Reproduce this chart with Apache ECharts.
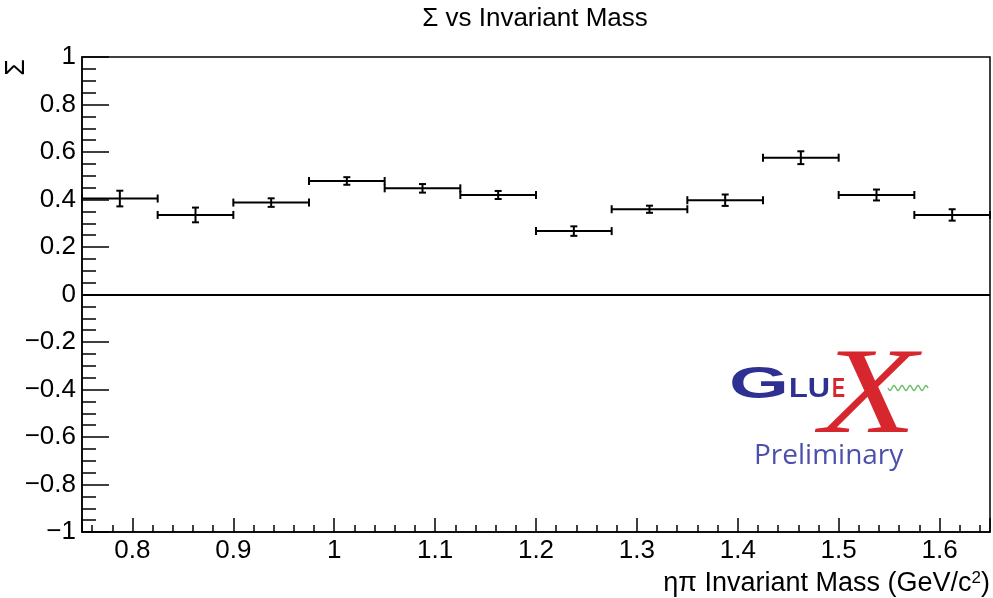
<!DOCTYPE html>
<html>
<head>
<meta charset="utf-8">
<title>Σ vs Invariant Mass</title>
<script src="https://cdn.jsdelivr.net/npm/echarts@6/dist/echarts.min.js"></script>
<style>
    html, body { margin: 0; padding: 0; background: #fff; }
    #chart { width: 993px; height: 598px; }
</style>
</head>
<body>
<div id="chart"></div>
<script>
    // eta-pi invariant mass bins (GeV/c^2) and measured beam asymmetry Sigma
    const massBinCenters = [0.7875, 0.8625, 0.9375, 1.0125, 1.0875, 1.1625, 1.2375, 1.3125, 1.3875, 1.4625, 1.5375, 1.6125];
    const binHalfWidth = 0.0375;
    const sigmaValues = [0.404, 0.335, 0.387, 0.478, 0.447, 0.419, 0.267, 0.359, 0.397, 0.576, 0.419, 0.335];
    const sigmaErrors = [0.033, 0.031, 0.018, 0.016, 0.018, 0.017, 0.020, 0.015, 0.024, 0.027, 0.023, 0.024];

    const font = "'Liberation Sans', Arial, sans-serif";

    const chart = echarts.init(document.getElementById("chart"));

    function renderErrorBar(params, api) {
        let x = api.value(0);
        let y = api.value(1);
        let hw = api.value(2);
        let err = api.value(3);
        let left = api.coord([x - hw, y]);
        let right = api.coord([x + hw, y]);
        let top = api.coord([x, y + err]);
        let bottom = api.coord([x, y - err]);
        let style = { stroke: "#000", lineWidth: 2 };
        let endCap = 4; // little marks at bin edges
        let errCap = 3.5; // caps on the error bar
        return {
            type: "group",
            children: [
                { type: "line", shape: { x1: left[0], y1: left[1], x2: right[0], y2: right[1] }, style: style },
                { type: "line", shape: { x1: left[0], y1: left[1] - endCap, x2: left[0], y2: left[1] + endCap }, style: style },
                { type: "line", shape: { x1: right[0], y1: right[1] - endCap, x2: right[0], y2: right[1] + endCap }, style: style },
                { type: "line", shape: { x1: top[0], y1: top[1], x2: bottom[0], y2: bottom[1] }, style: style },
                { type: "line", shape: { x1: top[0] - errCap, y1: top[1], x2: top[0] + errCap, y2: top[1] }, style: style },
                { type: "line", shape: { x1: bottom[0] - errCap, y1: bottom[1], x2: bottom[0] + errCap, y2: bottom[1] }, style: style },
            ],
        };
    }

    // green wavy photon line of the logo
    let wave = [];
    for (let i = 0; i <= 40; i++) {
        wave.push([888 + i, 388 + 2.5 * Math.sin(i / 40 * Math.PI * 10)]);
    }

    let option = {
        backgroundColor: "#fff",
        animation: false,
        title: {
            text: "Σ vs Invariant Mass",
            left: 530,
            top: 1,
            textAlign: "center",
            textStyle: { fontFamily: font, fontSize: 26, fontWeight: "normal", color: "#000" },
        },
        grid: {
            left: 82,
            right: 2,
            top: 57,
            bottom: 66,
            show: true,
            borderColor: "#000",
            borderWidth: 1.5,
            backgroundColor: "transparent",
        },
        xAxis: {
            type: "value",
            min: 0.75,
            max: 1.65,
            splitNumber: 9,
            name: "{a|ηπ Invariant Mass (GeV/c}{s|2}{a|)}",
            nameLocation: "end",
            nameGap: 0,
            nameTextStyle: {
                align: "right",
                verticalAlign: "top",
                padding: [38, 0, 0, 0],
                rich: {
                    a: { fontFamily: font, fontSize: 27, color: "#000", lineHeight: 28 },
                    s: { fontFamily: font, fontSize: 17, color: "#000", lineHeight: 28, verticalAlign: "top" },
                },
            },
            axisLine: { onZero: false, lineStyle: { color: "#000", width: 1.5 } },
            axisTick: { inside: true, length: 14, lineStyle: { color: "#000", width: 1.5 } },
            minorTick: { show: true, splitNumber: 5, length: 7, lineStyle: { color: "#000", width: 1.5 } },
            axisLabel: {
                margin: 6,
                showMinLabel: false,
                showMaxLabel: false,
                fontFamily: font,
                fontSize: 26,
                color: "#000",
            },
            splitLine: { show: false },
        },
        yAxis: {
            type: "value",
            min: -1,
            max: 1,
            interval: 0.2,
            name: "Σ",
            nameLocation: "end",
            nameRotate: 90,
            nameGap: -2,
            nameTextStyle: {
                fontFamily: font,
                fontSize: 27,
                color: "#000",
                align: "right",
                verticalAlign: "bottom",
                padding: [0, 0, 52, 0],
            },
            axisLine: { onZero: false, lineStyle: { color: "#000", width: 1.5 } },
            axisTick: { inside: true, length: 27, lineStyle: { color: "#000", width: 1.5 } },
            minorTick: { show: true, splitNumber: 4, length: 14, lineStyle: { color: "#000", width: 1.5 } },
            axisLabel: {
                margin: 6,
                fontFamily: font,
                fontSize: 26,
                color: "#000",
                formatter: function (v) {
                    return String(Math.round(v * 10) / 10).replace("-", "\u2212");
                },
            },
            splitLine: { show: false },
        },
        series: [
            {
                name: "Σ",
                type: "custom",
                renderItem: renderErrorBar,
                encode: { x: 0, y: 1 },
                data: massBinCenters.map((m, i) => [m, sigmaValues[i], binHalfWidth, sigmaErrors[i]]),
                markLine: {
                    silent: true,
                    symbol: "none",
                    label: { show: false },
                    lineStyle: { color: "#000", width: 2, type: "solid" },
                    data: [{ yAxis: 0 }],
                },
                z: 3,
            },
        ],
        graphic: [
            { type: "text", x: 729, y: 386, scaleX: 1.75, style: { text: "G", fontFamily: font, fontWeight: "bold", fontSize: 44, fill: "#2e3192", verticalAlign: "middle" } },
            { type: "text", x: 789, y: 389, scaleX: 1.1, style: { text: "LU", fontFamily: font, fontWeight: "bold", fontSize: 28, fill: "#2e3192", verticalAlign: "middle" } },
            { type: "text", x: 832, y: 389, scaleX: 0.7, style: { text: "E", fontFamily: font, fontWeight: "bold", fontSize: 28, fill: "#d7262e", verticalAlign: "middle" } },
            { type: "polyline", shape: { points: wave }, style: { stroke: "#6cbf6c", lineWidth: 1.5, fill: null } },
            { type: "text", x: 820, y: 400, scaleX: 1.3, style: { text: "X", fontFamily: "'Liberation Serif', serif", fontStyle: "italic", fontSize: 122, fill: "#d7262e", verticalAlign: "middle" } },
            { type: "text", x: 754, y: 456, style: { text: "Preliminary", fontFamily: "'Open Sans', sans-serif", fontSize: 28, fill: "#4c50ac", verticalAlign: "middle" } },
        ],
    };

    chart.setOption(option);
</script>
</body>
</html>
